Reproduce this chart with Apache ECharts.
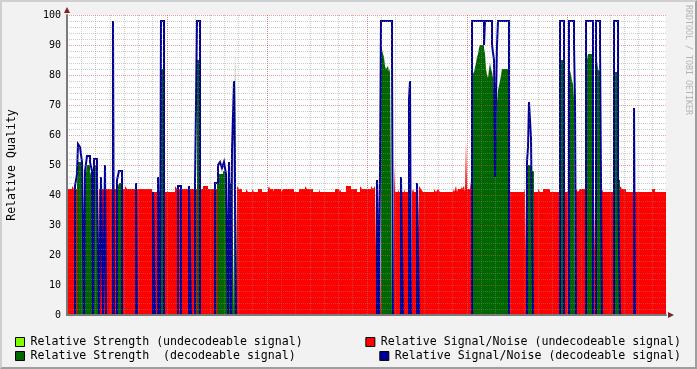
<!DOCTYPE html>
<html><head><meta charset="utf-8">
<script src="https://cdn.jsdelivr.net/npm/echarts@6/dist/echarts.min.js"></script>
<style>
html,body{margin:0;padding:0;background:#f2f2f2;}
#wrap{position:relative;width:697px;height:369px;}
#chart{position:absolute;left:0;top:0;width:697px;height:369px;}
#frame{position:absolute;left:0;top:0;width:697px;height:369px;box-sizing:border-box;border-top:2px solid #cfcfcf;border-left:2px solid #cfcfcf;border-right:2px solid #9e9e9e;border-bottom:2px solid #9e9e9e;pointer-events:none;}
</style></head>
<body><div id="wrap"><div id="chart"></div><div id="frame"></div></div>
<script>
// RRD rows: one consolidated row per 100.8 minutes (14.2857 rows per day)
const LAST_ROW = 599;
const ROWS_PER_DAY = 100 / 7;
const WEEK46_START_ROW = 82;

const weekLabels = ['Week 45', 'Week 46', 'Week 47', 'Week 48', 'Week 49', 'Week 50'];
const seriesNames = [
  'Relative Strength (undecodeable signal)',
  'Relative Signal/Noise (undecodeable signal)',
  'Relative Strength  (decodeable signal)',
  'Relative Signal/Noise (decodeable signal)'
];

// [row, value] change points (value holds until the next row)
const strengthUndecodeable = [[0,0],[170,45],[171,0],[202,45],[203,0],[225,44],[226,0],[239,44],[240,0],[465,49],[466,0]];

const snrUndecodeable = [[0,42],[5,43],[7,42],[10,0],[32,42],[50,0],[55,42],[58,43],[60,42],[85,41],[94,0],[97,41],[108,43],[110,42],[130,0],[133,42],[136,43],[141,42],[150,0],[170,43],[172,42],[175,41],[179,42],[181,41],[185,42],[187,41],[191,42],[195,41],[201,42],[202,43],[203,42],[206,41],[207,42],[214,41],[216,42],[227,41],[232,42],[238,43],[240,42],[246,41],[252,42],[253,41],[268,42],[272,41],[273,42],[274,41],[279,43],[284,42],[290,41],[293,43],[295,42],[304,43],[306,42],[308,43],[310,0],[312,43],[314,0],[327,50],[328,41],[331,42],[332,41],[337,42],[338,41],[342,0],[345,41],[346,42],[347,41],[350,0],[352,43],[354,42],[356,41],[367,42],[369,41],[371,42],[373,41],[386,42],[387,41],[388,42],[389,43],[390,41],[391,42],[394,43],[395,42],[397,43],[398,41],[399,58],[400,42],[403,45],[404,42],[405,0],[442,42],[443,41],[457,42],[458,41],[460,0],[467,41],[471,42],[473,41],[476,42],[483,41],[493,0],[497,41],[502,0],[508,41],[509,42],[511,41],[513,42],[519,0],[526,42],[527,41],[529,0],[535,42],[536,41],[547,0],[553,43],[555,42],[559,41],[566,44],[567,41],[585,42],[588,41]];

const strengthDecodeable = [[0,0],[10,44],[11,51],[15,48],[17,0],[18,45],[20,50],[23,48],[25,45],[26,0],[27,50],[30,44],[32,0],[50,42],[52,44],[55,0],[94,82],[97,0],[130,85],[133,0],[150,44],[152,47],[156,48],[159,45],[161,0],[162,44],[165,47],[167,0],[168,89],[170,0],[314,90],[316,87],[317,86],[318,83],[319,82],[321,83],[322,81],[323,82],[325,0],[342,62],[344,0],[405,80],[407,81],[409,84],[410,86],[411,87],[412,89],[413,90],[417,89],[418,87],[419,82],[420,80],[421,79],[422,82],[423,84],[424,82],[425,81],[426,79],[427,74],[428,45],[430,71],[431,75],[433,78],[435,82],[442,0],[460,50],[464,48],[467,0],[493,83],[494,85],[497,0],[502,83],[504,80],[505,78],[506,77],[507,72],[508,0],[519,81],[520,85],[521,87],[526,0],[529,83],[530,85],[531,82],[533,81],[535,0],[547,81],[550,45],[553,0]];

const snrDecodeable = [[0,0],[8,43],[10,47],[11,57],[13,56],[15,51],[17,0],[18,48],[20,53],[23,51],[25,48],[26,0],[27,52],[30,46],[32,0],[34,46],[36,0],[38,50],[39,0],[46,98],[47,0],[50,45],[52,48],[55,0],[69,44],[70,0],[86,41],[88,0],[91,46],[93,0],[94,98],[97,0],[111,43],[114,0],[122,43],[124,0],[128,43],[130,98],[133,0],[148,44],[151,50],[153,51],[155,49],[157,51],[159,47],[161,0],[162,51],[164,0],[165,55],[167,78],[169,0],[310,45],[312,0],[314,98],[325,85],[326,0],[334,46],[336,0],[342,72],[343,78],[344,0],[350,44],[352,0],[405,98],[417,90],[418,98],[425,90],[427,85],[428,46],[429,72],[430,90],[431,98],[442,0],[460,51],[461,56],[462,71],[464,59],[466,0],[493,98],[497,0],[502,98],[507,90],[508,72],[509,0],[519,98],[526,0],[529,98],[533,90],[535,0],[547,98],[551,44],[553,0],[567,69],[568,0]];

const colors = ['#80ff00', '#ff0000', '#006600', '#000099'];
const mono = '"DejaVu Sans Mono", monospace';

function steps(pts) { return pts.concat([[LAST_ROW, pts[pts.length - 1][1]]]); }

const DAY_MIN = -WEEK46_START_ROW / ROWS_PER_DAY;
const DAY_MAX = (LAST_ROW - WEEK46_START_ROW) / ROWS_PER_DAY;

const minorGrid = { color: 'rgba(143,143,143,0.45)', width: 1, type: [1, 1] };
const majorGrid = { color: 'rgba(222,79,79,0.55)', width: 1, type: [1, 1] };

const chart = echarts.init(document.getElementById('chart'), null, { renderer: 'canvas' });

function areaSeries(i, data, z) {
  return {
    name: seriesNames[i], type: 'line', step: 'end', data: steps(data),
    symbol: 'none', showSymbol: false, color: colors[i], z: z,
    lineStyle: { width: 0 }, areaStyle: { color: colors[i], opacity: 1 },
    silent: true, animation: false
  };
}

chart.setOption({
  animation: false,
  backgroundColor: '#f2f2f2',
  grid: { left: 67, top: 15, width: 599, height: 300, containLabel: false, outerBoundsMode: 'none',
          show: true, backgroundColor: '#ffffff', borderWidth: 0 },
  xAxis: [
    { type: 'value', min: 0, max: LAST_ROW, show: false, position: 'bottom' },
    { type: 'value', min: DAY_MIN, max: DAY_MAX, interval: 1, position: 'bottom', z: 4,
      axisLine: { show: false, onZero: false }, axisTick: { show: false }, axisLabel: { show: false },
      splitLine: { show: true, showMinLine: false, showMaxLine: false, lineStyle: minorGrid } },
    { type: 'value', min: DAY_MIN, max: DAY_MAX, interval: 7, position: 'bottom', z: 4,
      axisLine: { show: false, onZero: false }, axisTick: { show: false }, axisLabel: { show: false },
      splitLine: { show: true, showMinLine: false, showMaxLine: false, lineStyle: majorGrid } },
    { type: 'value', min: DAY_MIN + 3.5, max: DAY_MAX + 3.5, interval: 7, position: 'bottom', z: 8,
      axisLine: { show: true, onZero: false, lineStyle: { color: '#7a7a7a', width: 2 } },
      axisTick: { show: false }, splitLine: { show: false },
      axisLabel: { show: true, showMinLabel: false, showMaxLabel: false, margin: 5,
        fontFamily: mono, fontSize: 10, color: '#000',
        formatter: function (v) { const k = Math.round(v / 7); return (Math.abs(v - 7 * k) < 1e-6 && weekLabels[k]) ? weekLabels[k] : ''; } } }
  ],
  yAxis: [{
    type: 'value', min: 0, max: 100, interval: 10, position: 'left', z: 8,
    axisLine: { show: true, onZero: false, lineStyle: { color: '#7a7a7a', width: 2 } },
    axisTick: { show: false },
    axisLabel: { fontFamily: mono, fontSize: 10, color: '#000', margin: 6 },
    splitLine: { show: true, lineStyle: majorGrid },
    minorTick: { show: true, splitNumber: 5, length: 0 },
    minorSplitLine: { show: true, lineStyle: minorGrid },
    name: 'Relative Quality', nameLocation: 'middle', nameRotate: 90, nameGap: 49,
    nameTextStyle: { fontFamily: mono, fontSize: 11.6, color: '#000' }
  }],
  legend: [
    { data: [seriesNames[0]], left: 15, top: 336 },
    { data: [seriesNames[1]], right: 16, top: 336 },
    { data: [seriesNames[2]], left: 15, top: 350 },
    { data: [seriesNames[3]], right: 16, top: 350 }
  ].map(l => Object.assign(l, {
    padding: 0, itemWidth: 9, itemHeight: 9, itemGap: 0, icon: 'rect', selectedMode: false,
    itemStyle: { borderColor: '#000', borderWidth: 1 },
    textStyle: { fontFamily: mono, fontSize: 11.6, color: '#000', padding: [0, 0, 0, 1] }
  })),
  graphic: [
    { type: 'polygon', z: 100, shape: { points: [[64, 13], [70, 13], [67, 7]] }, style: { fill: '#7f1f1f' } },
    { type: 'polygon', z: 100, shape: { points: [[668, 312], [668, 318], [674, 315]] }, style: { fill: '#7f1f1f' } },
    { type: 'text', z: 100, x: 688, y: 5, rotation: -Math.PI / 2,
      style: { text: 'RRDTOOL / TOBI OETIKER', font: '8.3px "DejaVu Sans Mono"', fill: '#b4b4b4', align: 'left', verticalAlign: 'middle' } }
  ],
  series: [
    areaSeries(0, strengthUndecodeable, 1),
    areaSeries(1, snrUndecodeable, 2),
    areaSeries(2, strengthDecodeable, 3),
    { name: seriesNames[3], type: 'line', step: 'end', data: steps(snrDecodeable),
      symbol: 'none', showSymbol: false, color: colors[3], z: 6,
      lineStyle: { width: 2, color: colors[3], cap: 'butt', join: 'miter', miterLimit: 10 },
      silent: true, animation: false }
  ]
});
</script></body></html>
